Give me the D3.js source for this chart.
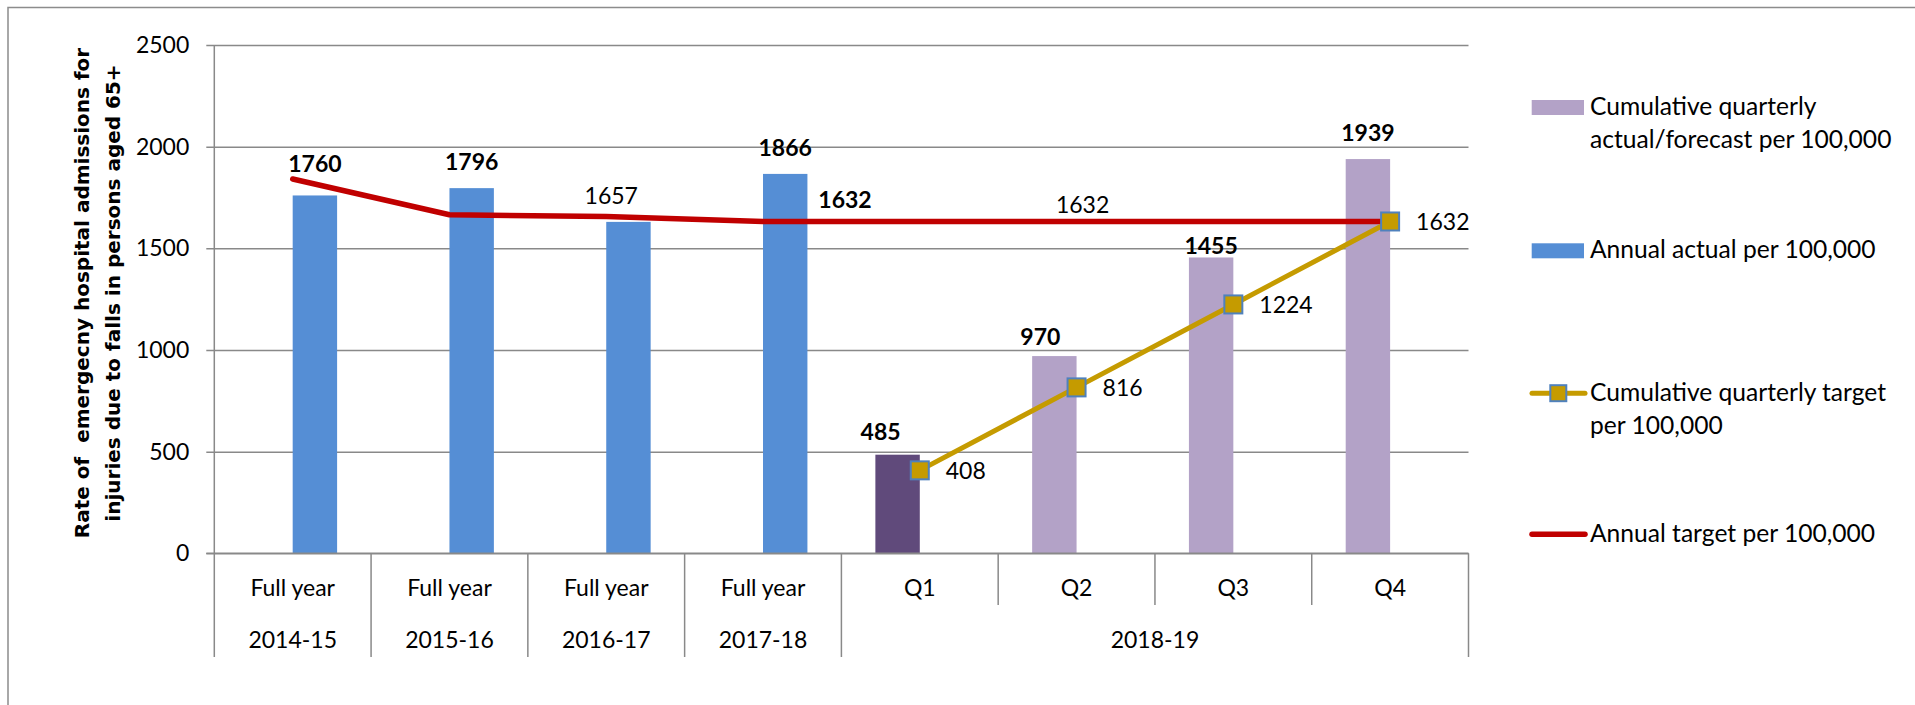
<!DOCTYPE html>
<html>
<head>
<meta charset="utf-8">
<script src="https://cdn.jsdelivr.net/npm/d3@7"></script>
<style>
  html, body { margin: 0; padding: 0; background: #fff; }
  svg { display: block; }
  text { font-family: Lato, "Open Sans", sans-serif; fill: #000; }
</style>
</head>
<body>
<div id="chart"></div>
<script>
// chart data
const categories = ['Full year', 'Full year', 'Full year', 'Full year', 'Q1', 'Q2', 'Q3', 'Q4'];
const periodLabels = ['2014-15', '2015-16', '2016-17', '2017-18', '2018-19'];
const periodSpans = [1, 1, 1, 1, 4];
const yTicks = [0, 500, 1000, 1500, 2000, 2500];

const annualActual = [1760, 1796, 1630, 1866, null, null, null, null];
const quarterlyCumulative = [null, null, null, null, 485, 970, 1455, 1939];
const quarterlyTarget = [null, null, null, null, 408, 816, 1224, 1632];
const annualTarget = [1841, 1665, 1657, 1632, 1632, 1632, 1632, 1632];

// which values carry a label
const annualActualShown = [true, true, false, true];
const quarterlyActualCount = 1; // Q1 is actual, rest forecast

const legendItems = [
  { type: 'rect', color: '#b3a2c7', lines: ['Cumulative quarterly', 'actual/forecast per 100,000'] },
  { type: 'rect', color: '#558ed5', lines: ['Annual actual per 100,000'] },
  { type: 'marker', color: '#c59b00', lines: ['Cumulative quarterly target', 'per 100,000'] },
  { type: 'line', color: '#c00000', lines: ['Annual target per 100,000'] }
];

// label nudges (layout only)
const barLabelNudge = { 0: [0, -6], 4: [-17, 3], 5: [-14, 7], 6: [0, 14] };
const targetLabels = [
  { i: 2, dx: 5, dy: -21, bold: false },
  { i: 3, dx: 82, dy: -22, bold: true },
  { i: 5, dx: 6, dy: -16.5, bold: false }
];

const W = 1915, H = 705;
const plot = { left: 214.3, right: 1468.5, top: 45, bottom: 553.3 };
const grid = '#898989';
const fs = 23;

const svg = d3.select('#chart').append('svg')
  .attr('width', W).attr('height', H);

// outer chart border (right/bottom edges fall outside the picture)
svg.append('rect')
  .attr('x', 8).attr('y', 7.5).attr('width', W + 20).attr('height', H + 20)
  .attr('fill', 'none').attr('stroke', '#8c8c8c').attr('stroke-width', 1.5);

const x = d3.scaleBand()
  .domain(d3.range(categories.length))
  .range([plot.left, plot.right])
  .paddingInner(0).paddingOuter(0);

const xSub = d3.scaleBand()
  .domain(['quarter', 'annual'])
  .range([0, x.bandwidth()])
  .paddingInner(0).paddingOuter(0.765);

const y = d3.scaleLinear().domain([0, 2500]).range([plot.bottom, plot.top]);

// gridlines + y axis
const yAxis = d3.axisLeft(y).tickValues(yTicks).tickFormat(d3.format('d'))
  .tickSize(-(plot.right - plot.left)).tickSizeOuter(0).tickPadding(25);
const gy = svg.append('g')
  .attr('transform', `translate(${plot.left},0)`)
  .call(yAxis);
gy.select('.domain').remove();
gy.selectAll('.tick line')
  .attr('x1', -8)
  .attr('stroke', grid).attr('stroke-width', 1.5);
gy.selectAll('.tick text')
  .attr('font-size', fs).attr('font-family', 'Lato')
  .attr('fill', '#000');

// y title
const yTitle = svg.append('text')
  .attr('transform', 'translate(97.5,293) rotate(-90)')
  .attr('text-anchor', 'middle')
  .style('font-family', '"DejaVu Sans", Verdana, sans-serif')
  .attr('font-weight', 'bold')
  .attr('font-size', 20);
yTitle.append('tspan').attr('x', 0).attr('y', -15.5).attr('dy', '0.35em')
  .text('Rate of  emergecny hospital admissions for').attr('xml:space', 'preserve');
yTitle.append('tspan').attr('x', 0).attr('y', 15.5).attr('dy', '0.35em')
  .text('injuries due to falls in persons aged 65+');

// bars
const bars = svg.append('g');
bars.selectAll('rect.quarter')
  .data(quarterlyCumulative.map((v, i) => ({ v, i })).filter(d => d.v != null))
  .enter().append('rect')
  .attr('x', d => x(d.i) + xSub('quarter'))
  .attr('width', xSub.bandwidth())
  .attr('y', d => y(d.v))
  .attr('height', d => y(0) - y(d.v))
  .attr('fill', d => (d.i - 4 < quarterlyActualCount ? '#604a7b' : '#b3a2c7'));

bars.selectAll('rect.annual')
  .data(annualActual.map((v, i) => ({ v, i })).filter(d => d.v != null))
  .enter().append('rect')
  .attr('x', d => x(d.i) + xSub('annual'))
  .attr('width', xSub.bandwidth())
  .attr('y', d => y(d.v))
  .attr('height', d => y(0) - y(d.v))
  .attr('fill', '#558ed5');

// x axis line and category separators
const axisG = svg.append('g').attr('stroke', grid).attr('stroke-width', 1.5);
axisG.append('line')
  .attr('x1', plot.left - 8).attr('x2', plot.right)
  .attr('y1', plot.bottom).attr('y2', plot.bottom);
axisG.append('line')
  .attr('x1', plot.left).attr('x2', plot.left)
  .attr('y1', plot.top).attr('y2', 657);

const rowMid = 605, rowEnd = 657;
let acc = 0;
const groupEdges = new Set([0]);
periodSpans.forEach(s => { acc += s; groupEdges.add(acc); });
d3.range(1, categories.length + 1).forEach(i => {
  const xx = i === categories.length ? plot.right : x(i);
  axisG.append('line')
    .attr('x1', xx).attr('x2', xx)
    .attr('y1', plot.bottom).attr('y2', groupEdges.has(i) ? rowEnd : rowMid);
});

// category labels
svg.append('g').selectAll('text')
  .data(categories)
  .enter().append('text')
  .attr('x', (d, i) => x(i) + x.bandwidth() / 2)
  .attr('y', 596)
  .attr('text-anchor', 'middle')
  .attr('font-size', fs)
  .text(d => d);

let start = 0;
const periodG = svg.append('g');
periodLabels.forEach((p, k) => {
  const x0 = x(start);
  const x1 = x(start) + x.bandwidth() * periodSpans[k];
  periodG.append('text')
    .attr('x', (x0 + x1) / 2).attr('y', 648)
    .attr('text-anchor', 'middle').attr('font-size', fs)
    .text(p);
  start += periodSpans[k];
});

// annual target line
const line = d3.line()
  .defined(d => d.v != null)
  .x(d => x(d.i) + x.bandwidth() / 2)
  .y(d => y(d.v));

svg.append('path')
  .datum(annualTarget.map((v, i) => ({ v, i })))
  .attr('fill', 'none')
  .attr('stroke', '#c00000')
  .attr('stroke-width', 5.5)
  .attr('stroke-linecap', 'round')
  .attr('stroke-linejoin', 'round')
  .attr('d', line);

// quarterly target line + markers
const qt = quarterlyTarget.map((v, i) => ({ v, i })).filter(d => d.v != null);
svg.append('path')
  .datum(qt)
  .attr('fill', 'none')
  .attr('stroke', '#c59b00')
  .attr('stroke-width', 5)
  .attr('stroke-linecap', 'round')
  .attr('d', line);

const mk = 18;
svg.append('g').selectAll('rect')
  .data(qt)
  .enter().append('rect')
  .attr('x', d => x(d.i) + x.bandwidth() / 2 - mk / 2)
  .attr('y', d => y(d.v) - mk / 2)
  .attr('width', mk).attr('height', mk)
  .attr('fill', '#c59b00')
  .attr('stroke', '#4f81bd').attr('stroke-width', 2);

svg.append('g').selectAll('text')
  .data(qt)
  .enter().append('text')
  .attr('x', d => x(d.i) + x.bandwidth() / 2 + 26)
  .attr('y', d => y(d.v))
  .attr('dy', '0.36em')
  .attr('font-size', fs)
  .text(d => d.v);

// bar value labels
const barLabels = [];
annualActual.forEach((v, i) => {
  if (v != null && annualActualShown[i]) barLabels.push({ v, i, cx: x(i) + xSub('annual') + xSub.bandwidth() / 2 });
});
quarterlyCumulative.forEach((v, i) => {
  if (v != null) barLabels.push({ v, i, cx: x(i) + xSub('quarter') + xSub.bandwidth() / 2 });
});
svg.append('g').selectAll('text')
  .data(barLabels)
  .enter().append('text')
  .attr('x', d => d.cx + (barLabelNudge[d.i] ? barLabelNudge[d.i][0] : 0))
  .attr('y', d => y(d.v) - 26 + (barLabelNudge[d.i] ? barLabelNudge[d.i][1] : 0))
  .attr('dy', '0.36em')
  .attr('text-anchor', 'middle')
  .attr('font-size', fs)
  .attr('font-weight', 'bold')
  .text(d => d.v);

// annual target labels
svg.append('g').selectAll('text')
  .data(targetLabels)
  .enter().append('text')
  .attr('x', d => x(d.i) + x.bandwidth() / 2 + d.dx)
  .attr('y', d => y(annualTarget[d.i]) + d.dy)
  .attr('dy', '0.36em')
  .attr('text-anchor', 'middle')
  .attr('font-size', fs)
  .attr('font-weight', d => (d.bold ? 'bold' : 'normal'))
  .text(d => annualTarget[d.i]);

// legend
const legendRows = [115, 258.3, 400.7, 541.7];
const lg = svg.append('g');
legendItems.forEach((item, k) => {
  const base = legendRows[k];
  const midY = base - 7.5;
  if (item.type === 'rect') {
    lg.append('rect')
      .attr('x', 1531.7).attr('y', midY - 7.5)
      .attr('width', 52.3).attr('height', 15)
      .attr('fill', item.color);
  } else {
    lg.append('line')
      .attr('x1', 1532).attr('x2', 1585)
      .attr('y1', midY).attr('y2', midY)
      .attr('stroke', item.color)
      .attr('stroke-width', item.type === 'line' ? 5.5 : 5)
      .attr('stroke-linecap', 'round');
    if (item.type === 'marker') {
      lg.append('rect')
        .attr('x', 1558.3 - 8).attr('y', midY - 8)
        .attr('width', 16).attr('height', 16)
        .attr('fill', item.color)
        .attr('stroke', '#4f81bd').attr('stroke-width', 2);
    }
  }
  item.lines.forEach((t, j) => {
    lg.append('text')
      .attr('x', 1590).attr('y', base + j * 33)
      .attr('font-size', 24.6)
      .text(t);
  });
});
</script>
</body>
</html>
